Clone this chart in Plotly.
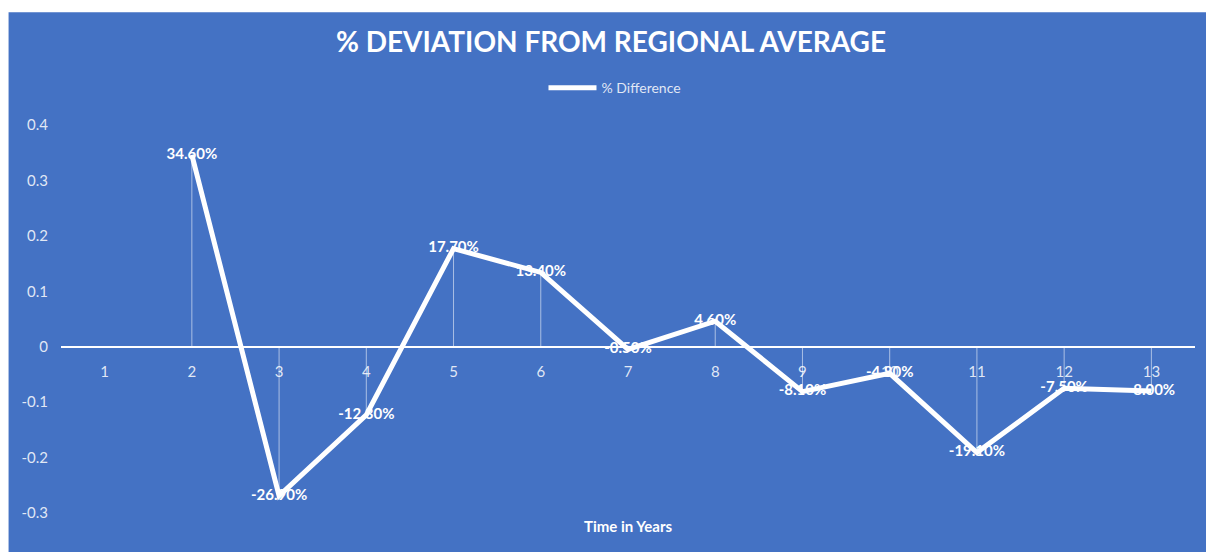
import plotly.graph_objects as go

# ---- data ----
years = [1, 2, 3, 4, 5, 6, 7, 8, 9, 10, 11, 12, 13]
pct_diff = [None, 0.346, -0.269, -0.123, 0.177, 0.134, -0.005, 0.046,
            -0.081, -0.048, -0.191, -0.075, -0.080]
y_tickvals = [-0.3, -0.2, -0.1, 0, 0.1, 0.2, 0.3, 0.4]
y_ticktext = ["-0.3", "-0.2", "-0.1", "0", "0.1", "0.2", "0.3", "0.4"]
series_name = "% Difference"
title_text = "% DEVIATION FROM REGIONAL AVERAGE"
x_title = "Time in Years"

BLUE = "#4472C4"
FONT = "Lato"
LABEL_COL = "rgba(255,255,255,0.85)"

# geometry (pixels)
W, H = 1206, 552
L, R, T, B = 61.4, 11.4, 125, 38.5
pw, ph = W - L - R, H - T - B


def px_x(px):
    return (px - L) / pw


def px_y(py):
    return (H - B - py) / ph


fig = go.Figure()

# drop lines from each point to the category axis
dx, dy = [], []
for x, y in zip(years, pct_diff):
    if y is None:
        continue
    dx += [x, x, None]
    dy += [0, y, None]
fig.add_trace(go.Scatter(
    x=dx, y=dy, mode="lines", showlegend=False, hoverinfo="skip",
    line=dict(color="rgba(255,255,255,0.55)", width=1)))

fig.add_trace(go.Scatter(
    x=years, y=pct_diff, name=series_name, mode="lines+text",
    line=dict(color="white", width=5),
    text=[None if v is None else f"{v*100:.2f}%" for v in pct_diff],
    textposition="middle center",
    textfont=dict(family=FONT, size=15, color="white", weight="bold"),
    connectgaps=False))

fig.update_layout(
    width=W, height=H,
    margin=dict(l=L, r=R, t=T, b=B, pad=0),
    paper_bgcolor="white",
    plot_bgcolor="rgba(0,0,0,0)",
    font=dict(family=FONT, size=15, color=LABEL_COL),
    title=dict(text=title_text, x=611 / W, xanchor="center", xref="container",
               y=1 - 42 / H, yanchor="middle", yref="container",
               font=dict(family=FONT, size=28, color="white", weight="bold")),
    showlegend=True,
    legend=dict(orientation="h", x=px_x(615), xanchor="center", y=px_y(88),
                yanchor="middle", bgcolor="rgba(0,0,0,0)", itemwidth=48,
                font=dict(family=FONT, size=14, color=LABEL_COL)),
    xaxis=dict(range=[0.5, 13.5], tickvals=years, ticktext=[str(v) for v in years],
               anchor="free", position=0.3 / 0.7, showline=True, linecolor="white",
               linewidth=1.5, showgrid=False, zeroline=False, ticks="",
               ticklabelstandoff=12, tickfont=dict(family=FONT, size=15, color=LABEL_COL)),
    yaxis=dict(range=[-0.3, 0.4], tickvals=y_tickvals, ticktext=y_ticktext,
               showgrid=False, zeroline=False, showline=False, ticks="",
               ticklabelstandoff=12, tickfont=dict(family=FONT, size=15, color=LABEL_COL)),
    shapes=[dict(type="rect", xref="paper", yref="paper", layer="below",
                 x0=px_x(9), x1=px_x(W + 2), y0=px_y(H + 2), y1=px_y(12),
                 fillcolor=BLUE, line=dict(width=0))],
    annotations=[dict(text=x_title, xref="paper", yref="paper", x=0.5, y=px_y(527),
                      xanchor="center", yanchor="middle", showarrow=False,
                      font=dict(family=FONT, size=15, color="white", weight="bold"))],
)

fig.write_html("out.html")
